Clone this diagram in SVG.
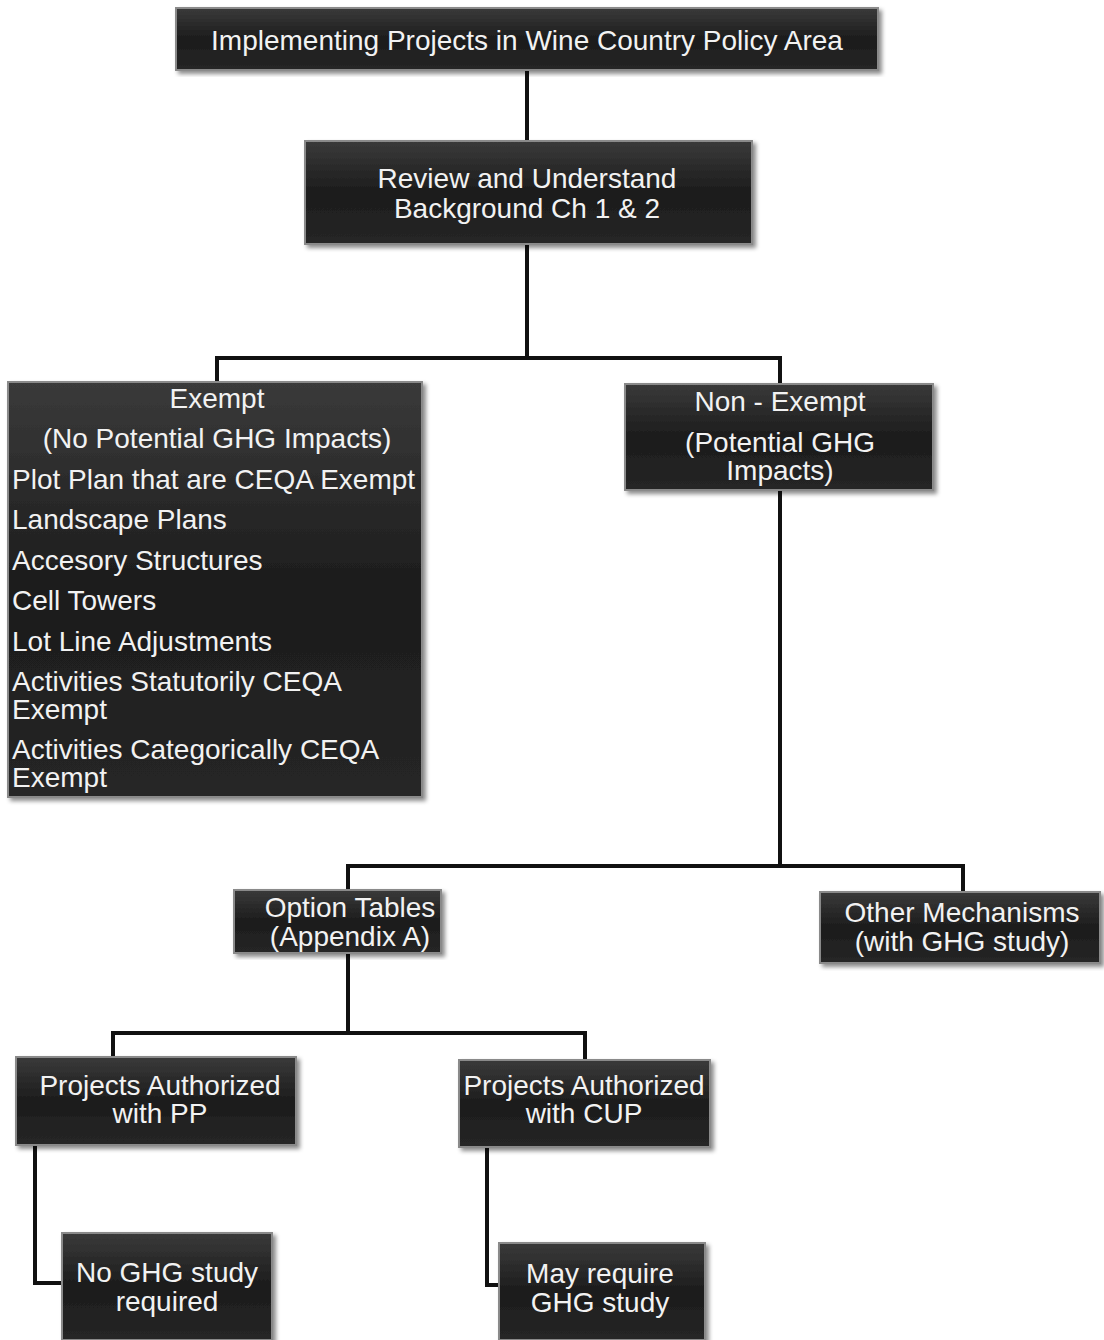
<svg xmlns="http://www.w3.org/2000/svg" width="1104" height="1340" viewBox="0 0 1104 1340">
<defs>
<linearGradient id="g" x1="0" y1="0" x2="0" y2="1">
<stop offset="0" stop-color="#3a3a3a"/>
<stop offset="0.5" stop-color="#1c1c1c"/>
<stop offset="1" stop-color="#262626"/>
</linearGradient>
<filter id="sh" x="-5%" y="-5%" width="112%" height="115%">
<feDropShadow dx="3" dy="3" stdDeviation="2" flood-color="#000" flood-opacity="0.45"/>
</filter>
</defs>
<style>
.box{fill:url(#g);stroke:#8a8a8a;stroke-width:2;filter:url(#sh)}
.t{font-family:"Liberation Sans",Arial,sans-serif;font-size:28px;fill:#f2f2f2;text-anchor:middle}
.l{text-anchor:start}
.c{fill:none;stroke:#111;stroke-width:4}
</style>
<rect width="1104" height="1340" fill="#fff"/>
<g id="connectors">
<path class="c" d="M527 70V141"/>
<path class="c" d="M527 244V358M217 382V358H780V384"/>
<path class="c" d="M780 490V866M348 891V866H963V892"/>
<path class="c" d="M348 953V1033M113 1057V1033H585V1060"/>
<path class="c" d="M35 1145V1283H62"/>
<path class="c" d="M487 1147V1285H502"/>
</g>
<g id="n1"><rect class="box" x="176" y="8" width="702" height="62"/>
<text class="t" x="527" y="50">Implementing Projects in Wine Country Policy Area</text></g>
<g id="n2"><rect class="box" x="305" y="141" width="447" height="103"/>
<text class="t" x="527" y="188">Review and Understand</text>
<text class="t" x="527" y="218">Background Ch 1 &amp; 2</text></g>
<g id="n3"><rect class="box" x="8" y="382" width="414" height="415"/>
<text class="t" x="217" y="408">Exempt</text>
<text class="t" x="217" y="448">(No Potential GHG Impacts)</text>
<text class="t l" x="12" y="489">Plot Plan that are CEQA Exempt</text>
<text class="t l" x="12" y="529">Landscape Plans</text>
<text class="t l" x="12" y="570">Accesory Structures</text>
<text class="t l" x="12" y="610">Cell Towers</text>
<text class="t l" x="12" y="651">Lot Line Adjustments</text>
<text class="t l" x="12" y="691">Activities Statutorily CEQA</text>
<text class="t l" x="12" y="719">Exempt</text>
<text class="t l" x="12" y="759">Activities Categorically CEQA</text>
<text class="t l" x="12" y="787">Exempt</text></g>
<g id="n4"><rect class="box" x="625" y="384" width="308" height="106"/>
<text class="t" x="780" y="411">Non - Exempt</text>
<text class="t" x="780" y="452">(Potential GHG</text>
<text class="t" x="780" y="480">Impacts)</text></g>
<g id="n5"><rect class="box" x="234" y="890" width="207" height="63"/>
<text class="t" x="350" y="917">Option Tables</text>
<text class="t" x="350" y="946">(Appendix A)</text></g>
<g id="n6"><rect class="box" x="820" y="892" width="280" height="71"/>
<text class="t" x="962" y="922">Other Mechanisms</text>
<text class="t" x="962" y="951">(with GHG study)</text></g>
<g id="n7"><rect class="box" x="16" y="1057" width="280" height="88"/>
<text class="t" x="160" y="1095">Projects Authorized</text>
<text class="t" x="160" y="1123">with PP</text></g>
<g id="n8"><rect class="box" x="459" y="1060" width="251" height="87"/>
<text class="t" x="584" y="1095">Projects Authorized</text>
<text class="t" x="584" y="1123">with CUP</text></g>
<g id="n9"><rect class="box" x="62" y="1233" width="210" height="107"/>
<text class="t" x="167" y="1282">No GHG study</text>
<text class="t" x="167" y="1311">required</text></g>
<g id="n10"><rect class="box" x="499" y="1243" width="206" height="97"/>
<text class="t" x="600" y="1283">May require</text>
<text class="t" x="600" y="1312">GHG study</text></g>
</svg>
